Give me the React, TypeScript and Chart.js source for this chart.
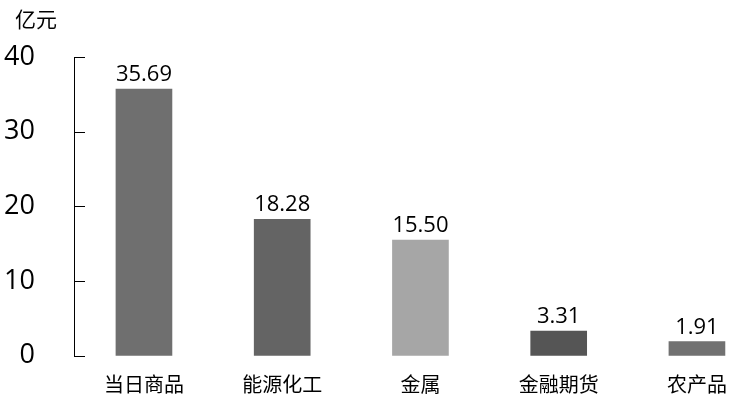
import React, { useEffect, useRef } from 'react';
import Chart from 'chart.js/auto';

const categories = ['当日商品', '能源化工', '金属', '金融期货', '农产品'];
const values = [35.69, 18.28, 15.5, 3.31, 1.91];
const barColors = ['#6f6f6f', '#646464', '#a6a6a6', '#555555', '#717171'];
const yTicks = [0, 10, 20, 30, 40];
const unitLabel = '亿元';

const cjkFont = '"Noto Sans CJK SC", "Noto Sans", sans-serif';
const numFont = '"Open Sans", "Noto Sans", sans-serif';

// value labels above bars, inward tick marks and the unit text
const extrasPlugin = {
  id: 'extras',
  afterDatasetsDraw(chart: any) {
    const { ctx, scales } = chart;
    const y = scales.y;
    const meta = chart.getDatasetMeta(0);
    ctx.save();
    ctx.font = `22px ${numFont}`;
    ctx.fillStyle = '#000';
    ctx.textAlign = 'center';
    ctx.textBaseline = 'alphabetic';
    meta.data.forEach((bar: any, i: number) => {
      ctx.fillText(values[i].toFixed(2), bar.x, bar.y - 8);
    });

    ctx.strokeStyle = '#000';
    ctx.lineWidth = 1;
    yTicks.forEach((t) => {
      const py = Math.round(y.getPixelForValue(t)) + 0.5;
      ctx.beginPath();
      ctx.moveTo(y.right, py);
      ctx.lineTo(y.right + 11, py);
      ctx.stroke();
    });

    ctx.font = `21px ${cjkFont}`;
    ctx.textAlign = 'left';
    ctx.textBaseline = 'middle';
    ctx.fillText(unitLabel, 15, 19);
    ctx.restore();
  },
};

const App: React.FC = () => {
  const chartRef = useRef<HTMLCanvasElement>(null);
  const chartInstance = useRef<Chart | null>(null);

  useEffect(() => {
    if (!chartRef.current) return;
    if (chartInstance.current) chartInstance.current.destroy();

    chartInstance.current = new Chart(chartRef.current, {
      type: 'bar',
      data: {
        datasets: [{
          data: values.map((v, i) => ({ x: i, y: v })),
          backgroundColor: barColors,
          borderWidth: 0,
          barThickness: 56,
        }],
      },
      plugins: [extrasPlugin],
      options: {
        responsive: false,
        animation: false,
        layout: { padding: { top: 57, right: 0, bottom: 0, left: 0 } },
        plugins: {
          legend: { display: false },
          tooltip: { enabled: false },
        },
        scales: {
          x: {
            type: 'linear',
            offset: false,
            min: -0.506,
            max: 4.297,
            grid: { display: false, drawTicks: false },
            border: { display: false },
            afterBuildTicks: (axis: any) => {
              axis.ticks = categories.map((_, i) => ({ value: i }));
            },
            afterFit: (axis: any) => {
              axis.height = 55;
              axis.paddingLeft = 0;
              axis.paddingRight = 0;
            },
            ticks: {
              padding: 17,
              color: '#000',
              font: { family: cjkFont, size: 20 },
              maxRotation: 0,
              autoSkip: false,
              callback: (v: any) => categories[v] ?? '',
            },
          },
          y: {
            min: 0,
            max: 40,
            grid: { display: false, drawTicks: false },
            border: { display: true, color: '#000', width: 1 },
            afterBuildTicks: (axis: any) => {
              axis.ticks = yTicks.map((v) => ({ value: v }));
            },
            afterFit: (axis: any) => {
              axis.width = 74;
            },
            ticks: {
              padding: 39,
              color: '#000',
              font: { family: numFont, size: 27 },
            },
          },
        },
      },
    });

    return () => {
      if (chartInstance.current) {
        chartInstance.current.destroy();
        chartInstance.current = null;
      }
    };
  }, []);

  return (
    <div style={{ position: 'fixed', left: 0, top: 0, width: 738, height: 411, background: '#fff' }}>
      <canvas ref={chartRef} width={738} height={411} style={{ width: 738, height: 411 }}></canvas>
    </div>
  );
};

export default App;
